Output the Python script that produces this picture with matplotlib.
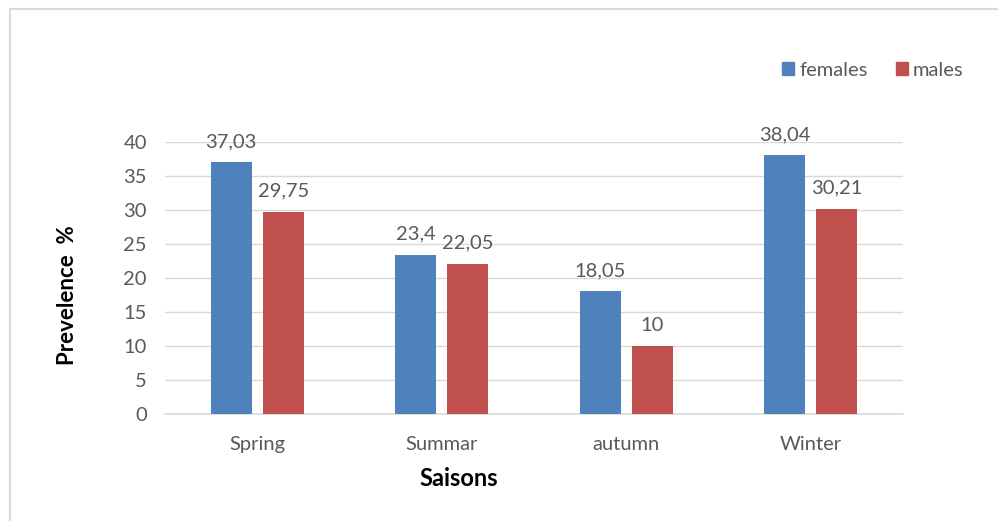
import matplotlib.pyplot as plt
import numpy as np
from matplotlib.patches import Rectangle, Patch

plt.rcParams['font.family'] = ['Lato', 'DejaVu Sans']

seasons = ['Spring', 'Summar', 'autumn', 'Winter']
females = [37.03, 23.4, 18.05, 38.04]
males = [29.75, 22.05, 10, 30.21]
fem_labels = ['37,03', '23,4', '18,05', '38,04']
male_labels = ['29,75', '22,05', '10', '30,21']

blue = '#4F81BD'
red = '#C0504D'
grey = '#595959'

fig = plt.figure(figsize=(9.98, 5.21), dpi=100)
ax = fig.add_axes([165/998, 1-414/521, (903-165)/998, (414-142)/521])

x = np.arange(len(seasons))
w = 0.222
off = 0.141
b1 = ax.bar(x - off, females, w, color=blue, zorder=3)
b2 = ax.bar(x + off, males, w, color=red, zorder=3)

for bars, labs in ((b1, fem_labels), (b2, male_labels)):
    for b, t in zip(bars, labs):
        ax.annotate(t, (b.get_x() + b.get_width()/2, b.get_height()),
                    xytext=(0, 11), textcoords='offset points',
                    ha='center', va='baseline', fontsize=14.5, color=grey)

ax.set_xlim(-0.5, 3.5)
ax.set_ylim(0, 40)
ax.set_yticks(np.arange(0, 41, 5))
ax.set_xticks(x)
ax.set_xticklabels(seasons)
ax.tick_params(axis='both', length=0, labelsize=14.5, labelcolor=grey)
ax.tick_params(axis='y', pad=13)
ax.tick_params(axis='x', pad=16)
ax.grid(axis='y', color='#d9d9d9', lw=1, zorder=0)
for s in ['top', 'right', 'left']:
    ax.spines[s].set_visible(False)
ax.spines['bottom'].set_color('#d9d9d9')
ax.spines['bottom'].set_linewidth(1.2)

fig.text(68/998, 1-295/521, 'Prevelence  %', rotation=90, ha='center', va='center',
         fontsize=16, fontweight='bold', color='black')
fig.text(459/998, 1-478/521, 'Saisons', ha='center', va='center',
         fontsize=17, fontweight='bold', color='black')

handles = [Patch(color=blue), Patch(color=red)]
fig.legend(handles, ['females', 'males'], loc='center', bbox_to_anchor=(873/998, 1-70/521),
           ncol=2, frameon=False, fontsize=14.5, handlelength=0.6, handleheight=0.6,
           handletextpad=0.25, columnspacing=1.4, labelcolor=grey)

fig.patches.append(Rectangle((10/998, -0.1), 1.2, 1.1 - 9/521, transform=fig.transFigure,
                             fill=False, edgecolor='#d9d9d9', lw=1.5))

fig.savefig('out.png', dpi=100, facecolor='white')
